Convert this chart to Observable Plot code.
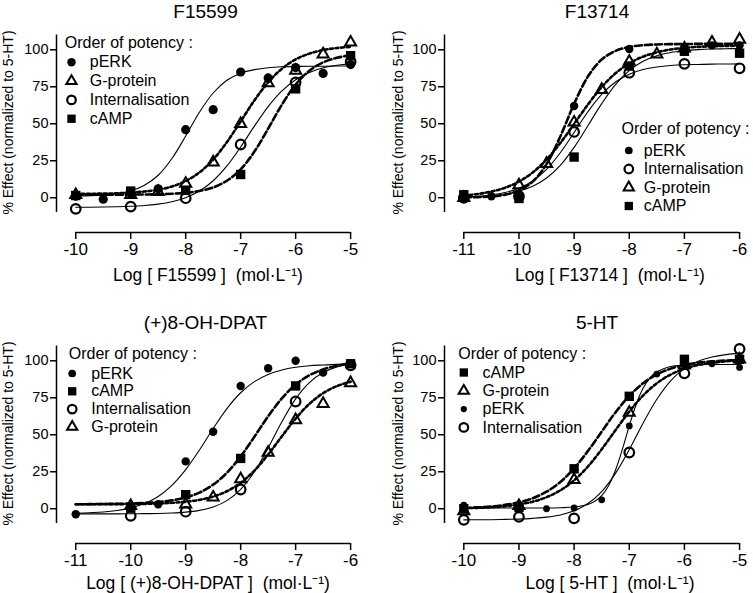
<!DOCTYPE html>
<html>
<head>
<meta charset="utf-8">
<script src="https://cdn.jsdelivr.net/npm/d3@7"></script>
<script src="https://cdn.jsdelivr.net/npm/@observablehq/plot@0.6"></script>
<style>
  html, body { margin: 0; padding: 0; background: #fff; }
  #root { position: relative; width: 753px; height: 593px; overflow: hidden; background: #fff; }
  #root svg { position: absolute; overflow: visible; max-width: none; }
</style>
</head>
<body>
<div id="root"></div>
<script>
// ---------------- shared tick values / labels ----------------
const yTicks = [0, 25, 50, 75, 100];
const yLabel = "% Effect (normalized to 5-HT)";
const legendTitle = "Order of potency :";

// ---------------- F15599 ----------------
const F15599_xTicks = [-10, -9, -8, -7, -6, -5];
const F15599_order = ["pERK", "G-protein", "Internalisation", "cAMP"];
const F15599_pERK = [[-10,1],[-9.5,-1],[-9,3],[-8.5,6],[-8,46],[-7.5,59.5],[-7,85],[-6.5,81],[-6,88],[-5.5,84],[-5,90]];
const F15599_Gprot = [[-10,2],[-9,2],[-8.5,4],[-8,9.5],[-7.5,24],[-7,50],[-6.5,77.5],[-6,86],[-5.5,97],[-5,105]];
const F15599_Intern = [[-10,-7.5],[-9,-6],[-8,-0.3],[-7,36],[-6,78],[-5,92]];
const F15599_cAMP = [[-10,1.5],[-9,4.5],[-8,5],[-7,15.7],[-6,73.6],[-5,96]];
const F15599_fitX = [-10,-9.75,-9.5,-9.25,-9,-8.75,-8.5,-8.25,-8,-7.75,-7.5,-7.25,-7,-6.75,-6.5,-6.25,-6,-5.75,-5.5,-5.25,-5];
const F15599_fit_pERK = [1.2,1.4,1.8,2.8,4.6,8.4,15.2,26.5,41.7,57.8,70.8,79.4,84.2,86.6,87.9,88.5,88.7,88.9,88.9,89,89];
const F15599_fit_Gprot = [2.6,2.7,2.8,3.0,3.5,4.2,5.4,7.6,11.3,17.1,25.8,37.6,51.6,65.8,78.0,87.2,93.5,97.4,99.8,101.2,102.0];
const F15599_fit_Intern = [-6.4,-6.4,-6.3,-6.1,-5.8,-5.3,-4.3,-2.7,0.0,4.5,11.5,21.5,34.3,48.4,61.6,72.2,79.8,84.7,87.8,89.6,90.6];
const F15599_fit_cAMP = [2.0,2.0,2.0,2.0,2.1,2.2,2.3,2.7,3.3,4.6,7.0,11.5,19.2,31.2,46.7,62.9,76.5,85.9,91.5,94.6,96.3];
const F15599_styles = {"pERK": "solid", "G-protein": "dotted", "Internalisation": "solid", "cAMP": "dashed"};

// ---------------- F13714 ----------------
const F13714_xTicks = [-11, -10, -9, -8, -7, -6];
const F13714_order = ["pERK", "Internalisation", "G-protein", "cAMP"];
const F13714_pERK = [[-11,0.5],[-10.5,1],[-10,1],[-9,62],[-8,100.5],[-7,102],[-6.5,103],[-6,103]];
const F13714_Intern = [[-11,0],[-10,1],[-9,44.5],[-8,84.5],[-7,90.5],[-6,87.5]];
const F13714_Gprot = [[-11,0],[-10,8.5],[-9.5,23],[-9,51],[-8.5,73],[-8,92],[-7.5,97],[-7,101],[-6.5,105],[-6,107]];
const F13714_cAMP = [[-11,2],[-10,-0.5],[-9,27.5],[-8,89],[-7,99],[-6,97.7]];
const F13714_fitX = [-11,-10.75,-10.5,-10.25,-10,-9.75,-9.5,-9.25,-9,-8.75,-8.5,-8.25,-8,-7.75,-7.5,-7.25,-7,-6.75,-6.5,-6.25,-6];
const F13714_fit_pERK = [0.2,0.4,0.9,2.1,4.9,10.9,22.7,41.4,63.5,81.9,93.4,99.2,101.9,103.1,103.6,103.8,103.9,104,104,104,104];
const F13714_fit_Gprot = [1.5,2.5,4.2,6.8,10.9,17.1,25.8,37.0,49.9,63.0,74.8,84.1,90.8,95.4,98.3,100.2,101.3,102.0,102.4,102.6,102.8];
const F13714_fit_Intern = [0.5,1.0,1.9,3.5,6.4,11.3,19.1,30.4,44.1,58.1,69.8,78.2,83.5,86.7,88.4,89.4,89.9,90.1,90.3,90.4,90.5];
const F13714_fit_cAMP = [0.4,0.7,1.3,2.4,4.4,7.7,13.3,21.9,34.0,48.7,63.6,76.5,85.9,92.2,96.0,98.2,99.4,100.1,100.5,100.7,100.9];
const F13714_styles = {"pERK": "dashed", "G-protein": "dotted", "Internalisation": "solid", "cAMP": "solid"};

// ---------------- (+)8-OH-DPAT ----------------
const DPAT_xTicks = [-11, -10, -9, -8, -7, -6];
const DPAT_order = ["pERK", "cAMP", "Internalisation", "G-protein"];
const DPAT_pERK = [[-11,-3.7],[-10,0],[-9.5,3],[-9,32],[-8.5,52],[-8,83],[-7.5,95],[-7,100],[-6.5,92],[-6,98]];
const DPAT_cAMP = [[-10,1],[-9,9.5],[-8,34],[-7,83],[-6,98]];
const DPAT_Intern = [[-10,-4.8],[-9,-2],[-8,13],[-7,72.5],[-6,97]];
const DPAT_Gprot = [[-10,2],[-9,3],[-8.5,7.7],[-8,20],[-7.5,38],[-7,60],[-6.5,71],[-6,85]];
const DPAT_fitX = [-11,-10.75,-10.5,-10.25,-10,-9.75,-9.5,-9.25,-9,-8.75,-8.5,-8.25,-8,-7.75,-7.5,-7.25,-7,-6.75,-6.5,-6.25,-6];
const DPAT_fit_pERK = [-3.1,-2.7,-2.2,-1.2,0.6,3.5,8.3,15.8,26.4,39.7,54.2,67.7,78.4,85.9,90.8,93.8,95.6,96.7,97.2,97.6,97.8];
const DPAT_fit_cAMP = [3.0,3.1,3.2,3.3,3.5,3.9,4.5,5.7,7.6,10.9,16.3,24.3,35.4,48.7,62.5,74.6,83.9,90.2,94.2,96.7,98.1];
const DPAT_fit_Intern = [-3.5,-3.5,-3.5,-3.5,-3.4,-3.3,-3.2,-2.9,-2.3,-1.1,1.2,5.5,13.1,25.0,41.1,58.8,74.3,85.3,92.1,95.9,97.9];
const DPAT_fit_Gprot = [3.0,3.0,3.1,3.1,3.2,3.3,3.5,4.0,4.7,6.0,8.2,11.8,17.5,25.8,36.7,49.0,60.9,70.9,78.1,82.9,85.9];
const DPAT_styles = {"pERK": "solid", "G-protein": "dotted", "Internalisation": "solid", "cAMP": "dashed"};

// ---------------- 5-HT ----------------
const HT_xTicks = [-10, -9, -8, -7, -6, -5];
const HT_order = ["cAMP", "G-protein", "pERK", "Internalisation"];
const HT_cAMP = [[-10,0],[-9,1],[-8,27],[-7,76],[-6,101],[-5,101]];
const HT_Gprot = [[-10,-1.5],[-9,2],[-8,19.5],[-7,65],[-6,97],[-5,101]];
const HT_pERK = [[-10,2.5],[-9,1],[-8.5,0],[-8,0.5],[-7.5,6],[-7,56],[-6.5,91],[-6,97],[-5.5,98],[-5,95.5]];
const HT_Intern = [[-10,-7.5],[-9,-5.5],[-8,-6.5],[-7,38],[-6,91.5],[-5,108]];
const HT_fitX = [-10,-9.75,-9.5,-9.25,-9,-8.75,-8.5,-8.25,-8,-7.75,-7.5,-7.25,-7,-6.75,-6.5,-6.25,-6,-5.75,-5.5,-5.25,-5];
const HT_fit_cAMP = [0.5,0.9,1.5,2.6,4.3,7.1,11.5,18.1,27.3,39.0,52.1,65.1,76.2,84.8,90.8,94.7,97.2,98.7,99.6,100.2,100.5];
const HT_fit_Gprot = [0.4,0.6,1.0,1.7,2.9,4.8,7.8,12.4,19.2,28.5,40.2,53.1,65.7,76.5,84.8,90.7,94.6,97.1,98.6,99.6,100.2];
const HT_fit_Intern = [-7.5,-7.4,-7.4,-7.2,-7.0,-6.5,-5.7,-4.2,-1.4,3.5,11.6,23.9,40.0,57.8,74.0,86.5,94.7,99.7,102.6,104.2,105.0];
const HT_fitX_pERK = [-10,-9.5,-9,-8.5,-8.25,-8,-7.75,-7.625,-7.5,-7.375,-7.25,-7.125,-7,-6.875,-6.75,-6.625,-6.5,-6.25,-6,-5.5,-5];
const HT_fit_pERK = [0.5,0.5,0.5,0.5,0.7,1.2,2.9,5.0,8.9,15.6,26.0,40.1,56.0,70.5,81.4,88.5,92.6,96.2,97.1,97.5,97.5];
const HT_styles = {"pERK": "solid", "G-protein": "dotted", "Internalisation": "solid", "cAMP": "dashed"};

// ---------------- styles ----------------
const FONT = "'Liberation Sans', Arial, Helvetica, sans-serif";
const SYM = {
  "pERK": {symbol: "circle", fill: "#000", stroke: "none"},
  "G-protein": {symbol: "triangle", fill: "none", stroke: "#000", strokeWidth: 2},
  "Internalisation": {symbol: "circle", fill: "none", stroke: "#000", strokeWidth: 2.2},
  "cAMP": {symbol: "square", fill: "#000", stroke: "none"}
};
const LINE = {
  solid: {strokeWidth: 1.1},
  dotted: {strokeWidth: 2.6, strokeDasharray: "3,2.6"},
  dashed: {strokeWidth: 2.6, strokeDasharray: "7,3"}
};

function toRows(pairs) { return pairs.map(([x, y]) => ({x, y})); }

function makePanel(c) {
  const H = 283, mT = 34.5, mB = 51;
  const xd = [c.xTicks[0] - 0.35, c.xTicks[c.xTicks.length - 1] + 0.18];
  const yd = [-23.5, 110];
  const frameMidY = (mT + (H - mB)) / 2;
  const marks = [];
  // axis lines
  marks.push(Plot.ruleX([xd[0]], {y1: -10, y2: 110, stroke: "#000", strokeWidth: 1.5}));
  marks.push(Plot.ruleY([yd[0]], {x1: c.xTicks[0], x2: c.xTicks[c.xTicks.length - 1], stroke: "#000", strokeWidth: 1.5}));
  marks.push(Plot.axisY(yTicks, {tickSize: 6, tickPadding: 2, fontSize: 14.5, label: null, strokeWidth: 1.5}));
  marks.push(Plot.axisX(c.xTicks, {tickSize: 7, tickPadding: 3, fontSize: 17, label: null, strokeWidth: 1.5,
    tickFormat: d => "-" + Math.abs(d)}));
  // fitted curves
  for (const s of c.order) {
    const f = c.fits[s];
    const rows = f.x.map((x, i) => ({x, y: f.y[i]}));
    marks.push(Plot.line(rows, {x: "x", y: "y", curve: "catmull-rom", stroke: "#000", ...LINE[c.styles[s]]}));
  }
  // data points
  for (const s of [...c.order].reverse()) {
    const r = s === "pERK" ? c.rERK : s === "G-protein" ? 4.1 : s === "Internalisation" ? 4.8 : 5.3;
    marks.push(Plot.dot(toRows(c.pts[s]), {x: "x", y: "y", r, ...SYM[s]}));
  }
  // title and axis labels
  marks.push(Plot.text([c.title], {text: d => d, frameAnchor: "top", textAnchor: "middle", lineAnchor: "middle",
    dx: c.titleDx, dy: -23, fontSize: 19}));
  marks.push(Plot.text([c.xLabel], {text: d => d, frameAnchor: "bottom", textAnchor: "middle", lineAnchor: "middle",
    dx: c.xLabelDx, dy: c.xLabelDy, fontSize: 17.5}));
  marks.push(Plot.text([yLabel], {text: d => d, frameAnchor: "left", textAnchor: "middle", lineAnchor: "middle",
    rotate: -90, dx: c.yLabelX - c.mL, dy: 122 - frameMidY, fontSize: 14}));
  // legend
  const L = c.legend;
  marks.push(Plot.text([legendTitle], {text: d => d, frameAnchor: "top-left", textAnchor: "start", lineAnchor: "middle",
    dx: L.hx - c.mL, dy: L.hy - mT, fontSize: 16}));
  c.order.forEach((s, i) => {
    const yy = L.ry + i * L.step - mT;
    const r = s === "pERK" ? c.rERK * 0.92 : s === "G-protein" ? 3.8 : s === "Internalisation" ? 4.3 : 4.7;
    marks.push(Plot.dot([s], {frameAnchor: "top-left", dx: L.sx - c.mL, dy: yy, r, ...SYM[s]}));
    marks.push(Plot.text([s], {text: d => d, frameAnchor: "top-left", textAnchor: "start", lineAnchor: "middle",
      dx: L.tx - c.mL, dy: yy, fontSize: 16}));
  });

  const svg = Plot.plot({
    width: c.width, height: H,
    marginLeft: c.mL, marginRight: c.mR, marginTop: mT, marginBottom: mB,
    x: {domain: xd},
    y: {domain: yd},
    style: {fontFamily: FONT, background: "transparent", color: "#000", overflow: "visible"},
    marks
  });
  svg.style.left = c.left + "px";
  svg.style.top = c.top + "px";
  document.getElementById("root").appendChild(svg);
}

const LEFT = {width: 376, mL: 56, mR: 16, titleDx: -3, xLabelDx: -0.5, yLabelX: 8};
const RIGHT = {width: 377, mL: 68, mR: 4, titleDx: 0, xLabelDx: 13, yLabelX: 21.7};

makePanel({...LEFT, left: 0, top: 0, xLabelDy: 43, title: "F15599", xTicks: F15599_xTicks,
  xLabel: "Log [ F15599 ]  (mol·L⁻¹)", order: F15599_order, styles: F15599_styles, rERK: 4.6,
  pts: {"pERK": F15599_pERK, "G-protein": F15599_Gprot, "Internalisation": F15599_Intern, "cAMP": F15599_cAMP},
  fits: {"pERK": {x: F15599_fitX, y: F15599_fit_pERK}, "G-protein": {x: F15599_fitX, y: F15599_fit_Gprot},
         "Internalisation": {x: F15599_fitX, y: F15599_fit_Intern}, "cAMP": {x: F15599_fitX, y: F15599_fit_cAMP}},
  legend: {hx: 64.3, hy: 42.5, sx: 71, tx: 89.3, ry: 61.7, step: 18.85}});

makePanel({...RIGHT, left: 376, top: 0, xLabelDy: 43, title: "F13714", xTicks: F13714_xTicks,
  xLabel: "Log [ F13714 ]  (mol·L⁻¹)", order: F13714_order, styles: F13714_styles, rERK: 4.2,
  pts: {"pERK": F13714_pERK, "G-protein": F13714_Gprot, "Internalisation": F13714_Intern, "cAMP": F13714_cAMP},
  fits: {"pERK": {x: F13714_fitX, y: F13714_fit_pERK}, "G-protein": {x: F13714_fitX, y: F13714_fit_Gprot},
         "Internalisation": {x: F13714_fitX, y: F13714_fit_Intern}, "cAMP": {x: F13714_fitX, y: F13714_fit_cAMP}},
  legend: {hx: 245, hy: 128, sx: 252.3, tx: 267.3, ry: 150, step: 18.5}});

makePanel({...LEFT, left: 0, top: 311, xLabelDy: 39.5, title: "(+)8-OH-DPAT", xTicks: DPAT_xTicks,
  xLabel: "Log [ (+)8-OH-DPAT ]  (mol·L⁻¹)", order: DPAT_order, styles: DPAT_styles, rERK: 4.2,
  pts: {"pERK": DPAT_pERK, "G-protein": DPAT_Gprot, "Internalisation": DPAT_Intern, "cAMP": DPAT_cAMP},
  fits: {"pERK": {x: DPAT_fitX, y: DPAT_fit_pERK}, "G-protein": {x: DPAT_fitX, y: DPAT_fit_Gprot},
         "Internalisation": {x: DPAT_fitX, y: DPAT_fit_Intern}, "cAMP": {x: DPAT_fitX, y: DPAT_fit_cAMP}},
  legend: {hx: 68.3, hy: 42.7, sx: 71.7, tx: 90.7, ry: 62, step: 17.8}});

makePanel({...RIGHT, left: 376, top: 311, xLabelDy: 39.5, title: "5-HT", xTicks: HT_xTicks,
  xLabel: "Log [ 5-HT ]  (mol·L⁻¹)", order: HT_order, styles: HT_styles, rERK: 3.4,
  pts: {"pERK": HT_pERK, "G-protein": HT_Gprot, "Internalisation": HT_Intern, "cAMP": HT_cAMP},
  fits: {"pERK": {x: HT_fitX_pERK, y: HT_fit_pERK}, "G-protein": {x: HT_fitX, y: HT_fit_Gprot},
         "Internalisation": {x: HT_fitX, y: HT_fit_Intern}, "cAMP": {x: HT_fitX, y: HT_fit_cAMP}},
  legend: {hx: 81.7, hy: 42.7, sx: 87.3, tx: 106, ry: 61, step: 18.3}});
</script>
</body>
</html>
